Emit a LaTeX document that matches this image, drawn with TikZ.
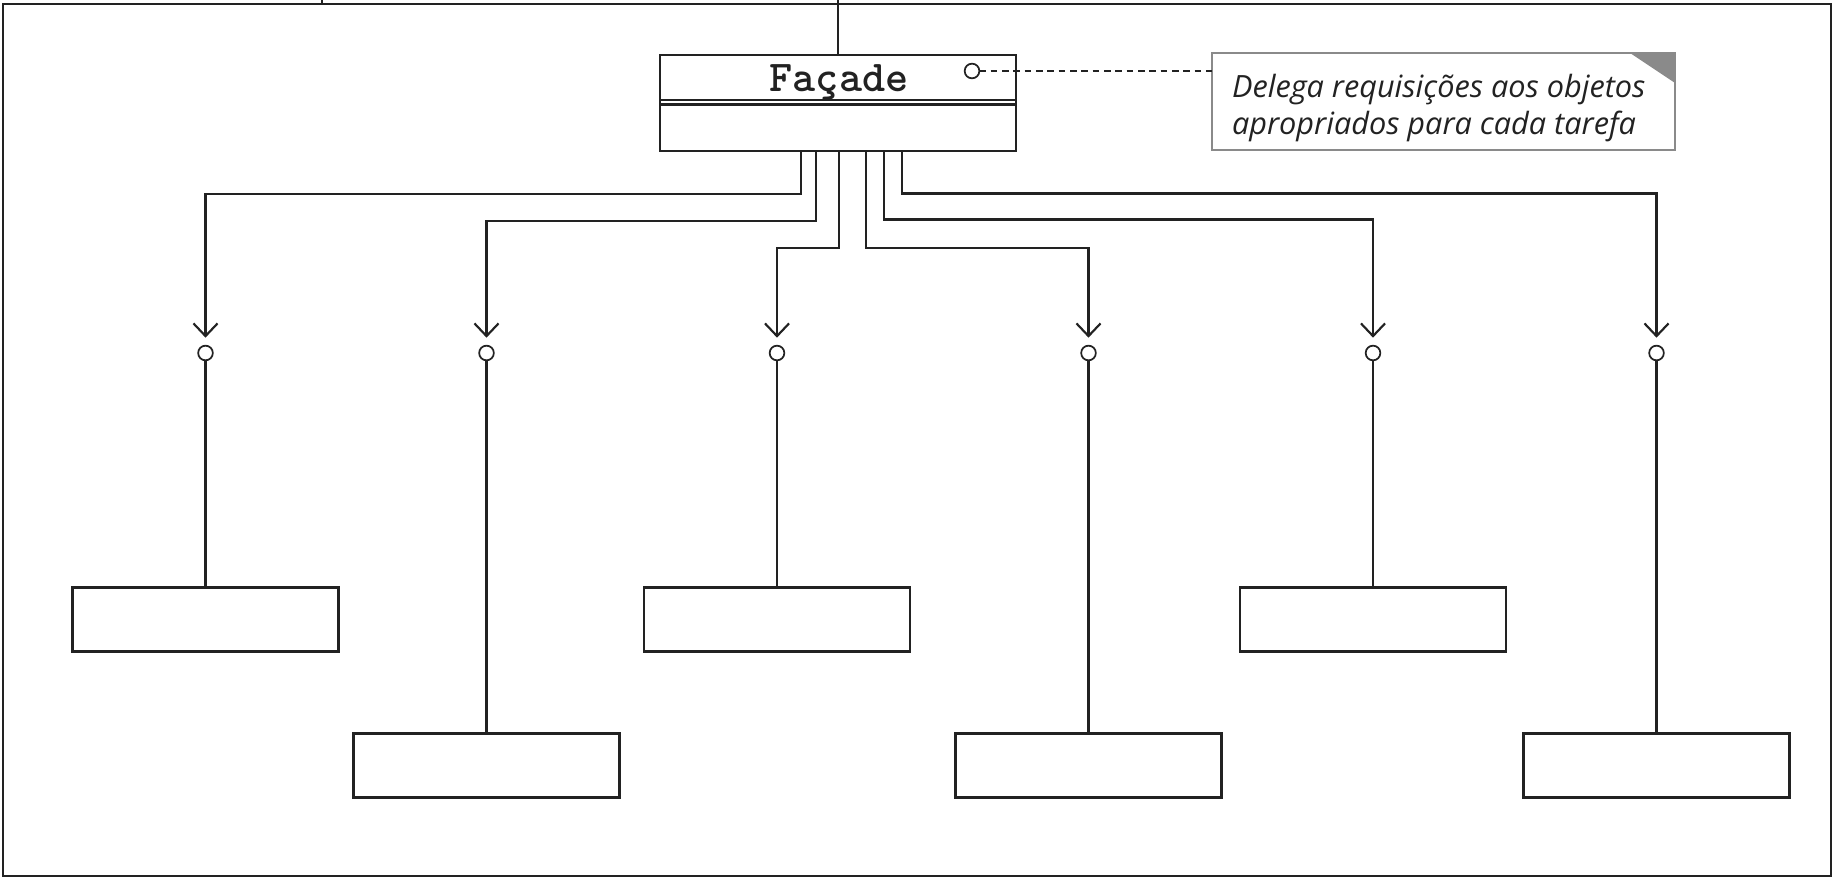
\documentclass[tikz,border=0pt]{standalone}
\usepackage{fontspec}
\usetikzlibrary{arrows.meta,calc}
\newfontfamily\notefont{Open Sans}
\definecolor{ink}{HTML}{222222}
\definecolor{notegray}{HTML}{8A8A8A}
\begin{document}
\begin{tikzpicture}[x=0.75pt,y=-0.75pt,
  every node/.style={inner sep=0pt, outer sep=0pt},
  frame/.style={draw=ink, line width=1.8pt},
  classbox/.style={draw=ink, line width=1.6pt, fill=white, minimum width=267pt, minimum height=72pt},
  leafbox/.style={draw=ink, line width=1.6pt, minimum width=199.5pt, minimum height=48pt},
  port/.style={draw=ink, line width=1.3pt, circle, minimum size=11pt, fill=white},
  conn/.style={draw=ink, line width=1.6pt, -{Straight Barb[length=9.5pt,width=18pt]}, shorten >=6pt},
  wire/.style={draw=ink, line width=1.6pt},
  notelink/.style={draw=ink, line width=1.2pt, dash pattern=on 5pt off 3.5pt},
  notebox/.style={draw=notegray, line width=1.1pt, minimum width=347pt, minimum height=73pt},
  notetext/.style={font=\notefont\itshape\fontsize{23}{27}\selectfont, text=ink, anchor=base west},
  titletext/.style={font=\ttfamily\bfseries\fontsize{33}{36}\selectfont, text=ink, anchor=base}
]
\useasboundingbox (0,0) rectangle (1833,877);
\fill[white] (0,0) rectangle (1833,877);

% outer frame with the tab edge on top
\draw[frame] (3,4) rectangle (1831,876);
\draw[frame] (322,0) -- (322,4);

% the facade class
\node[classbox] (facade) at (838,103) {};
\node[titletext] (title) at (839,92) {Façade};
\draw[wire] ($(facade.north west)+(0,45)$) -- ($(facade.north east)+(0,45)$);
\draw[wire] ($(facade.north west)+(0,49.5)$) -- ($(facade.north east)+(0,49.5)$);
\coordinate (topend) at (838,0);
\draw[wire] (facade.north) -- (topend);

% note attached to the facade
\node[port] (fport) at (972,71) {};
\node[notebox] (note) at (1443.5,101.5) {};
\fill[notegray] (note.north east) -- ++(-45,0) -- ++(45,30) -- cycle;
\node[notetext] (noteA) at (1232,98) {Delega requisições aos objetos};
\node[notetext] (noteB) at (1232,135) {apropriados para cada tarefa};
\draw[notelink] (fport.east) -- (fport.east -| note.west);

% interface ports of the subsystem classes
\node[port] (c1) at (205.5,353) {};
\node[port] (c2) at (486.5,353) {};
\node[port] (c3) at (777,353) {};
\node[port] (c4) at (1088.5,353) {};
\node[port] (c5) at (1373,353) {};
\node[port] (c6) at (1656.5,353) {};

% subsystem classes
\node[leafbox] (b1) at (205.5,619.5) {};
\node[leafbox] (b2) at (486.5,765.5) {};
\node[leafbox] (b3) at (777,619.5) {};
\node[leafbox] (b4) at (1088.5,765.5) {};
\node[leafbox] (b5) at (1373,619.5) {};
\node[leafbox] (b6) at (1656.5,765.5) {};

% delegation connectors
\draw[conn] ([shift={(-37,0)}]facade.south) -- ++(0,43) -| (c1.north);
\draw[conn] ([shift={(-22,0)}]facade.south) -- ++(0,70) -| (c2.north);
\draw[conn] ([shift={(1,0)}]facade.south) -- ++(0,97) -| (c3.north);
\draw[conn] ([shift={(28,0)}]facade.south) -- ++(0,97) -| (c4.north);
\draw[conn] ([shift={(46,0)}]facade.south) -- ++(0,68.5) -| (c5.north);
\draw[conn] ([shift={(64,0)}]facade.south) -- ++(0,42.5) -| (c6.north);

% ports down to their classes
\draw[wire] (c1.south) -- (b1.north);
\draw[wire] (c2.south) -- (b2.north);
\draw[wire] (c3.south) -- (b3.north);
\draw[wire] (c4.south) -- (b4.north);
\draw[wire] (c5.south) -- (b5.north);
\draw[wire] (c6.south) -- (b6.north);
\end{tikzpicture}
\end{document}
